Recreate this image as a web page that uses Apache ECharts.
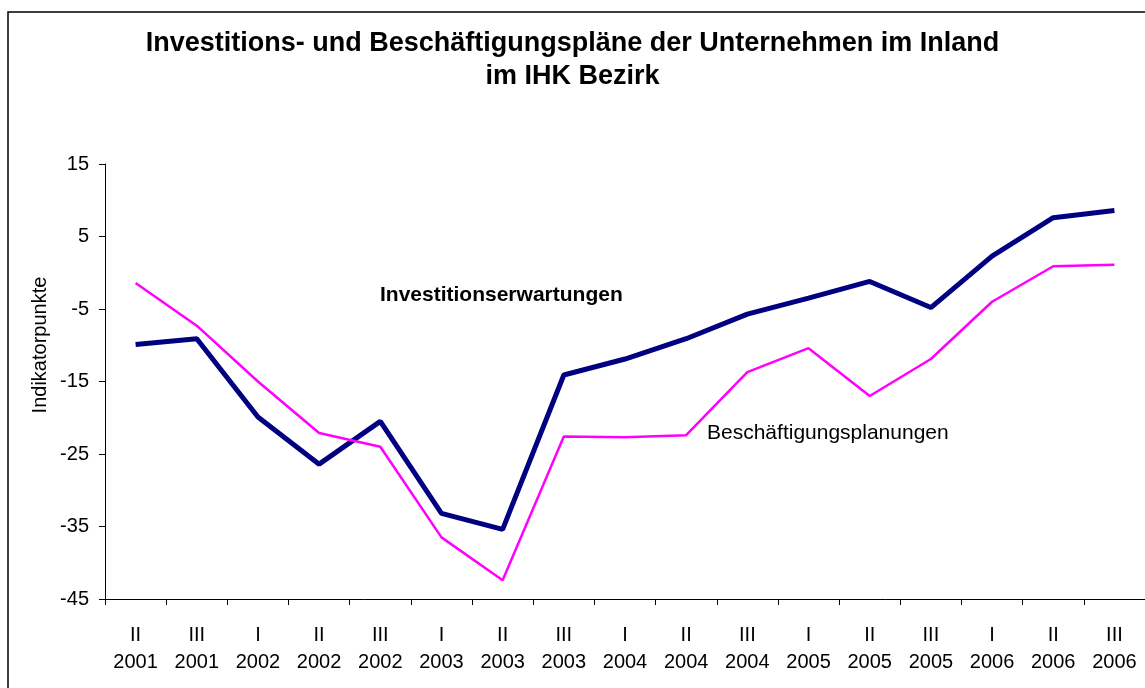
<!DOCTYPE html>
<html>
<head>
<meta charset="utf-8">
<script src="https://cdn.jsdelivr.net/npm/echarts@6/dist/echarts.min.js"></script>
<style>
  html, body { margin: 0; padding: 0; background: #fff; }
  #chart { width: 1145px; height: 688px; }
</style>
</head>
<body>
<div id="chart"></div>
<script>
var quarters = ['II', 'III', 'I', 'II', 'III', 'I', 'II', 'III', 'I', 'II', 'III', 'I', 'II', 'III', 'I', 'II', 'III'];
var years = ['2001', '2001', '2002', '2002', '2002', '2003', '2003', '2003', '2004', '2004', '2004', '2005', '2005', '2005', '2006', '2006', '2006'];
var investValues = [-9.9, -9.1, -19.9, -26.4, -20.5, -33.2, -35.4, -14.1, -11.9, -9.1, -5.7, -3.5, -1.2, -4.8, 2.3, 7.6, 8.6];
var jobValues = [-1.4, -7.3, -15.0, -22.1, -24.0, -36.5, -42.4, -22.6, -22.7, -22.4, -13.7, -10.4, -17.0, -11.9, -4.0, 0.9, 1.1];

var categories = quarters.map(function (q, i) {
    return q + '\n' + years[i];
});

var chart = echarts.init(document.getElementById('chart'));

var font = '"Liberation Sans", Arial, sans-serif';

var option = {
    animation: false,
    backgroundColor: '#fff',
    textStyle: { fontFamily: font },
    title: {
        text: 'Investitions- und Beschäftigungspläne der Unternehmen im Inland\nim IHK Bezirk',
        left: 'center',
        top: 22,
        textStyle: {
            fontFamily: font,
            fontSize: 27,
            fontWeight: 'bold',
            color: '#000',
            lineHeight: 33
        }
    },
    grid: {
        left: 105,
        top: 164,
        width: 1046,
        height: 435
    },
    xAxis: {
        type: 'category',
        data: categories,
        boundaryGap: true,
        axisLine: { show: true, onZero: false, lineStyle: { color: '#000', width: 1 } },
        axisTick: { show: true, alignWithLabel: false, interval: 0, length: 6, lineStyle: { color: '#000', width: 1 } },
        axisLabel: {
            color: '#000',
            fontSize: 20,
            fontFamily: font,
            lineHeight: 27,
            margin: 23,
            interval: 0
        },
        splitLine: { show: false }
    },
    yAxis: {
        type: 'value',
        min: -45,
        max: 15,
        interval: 10,
        axisLine: { show: true, lineStyle: { color: '#000', width: 1 } },
        axisTick: { show: true, length: 6, lineStyle: { color: '#000' } },
        axisLabel: { color: '#000', fontSize: 20, fontFamily: font, margin: 16 },
        splitLine: { show: false }
    },
    series: [{
        name: 'Investitionserwartungen',
        type: 'line',
        data: investValues,
        showSymbol: false,
        lineStyle: { color: '#000080', width: 5 },
        itemStyle: { color: '#000080' }
    }, {
        name: 'Beschäftigungsplanungen',
        type: 'line',
        data: jobValues,
        showSymbol: false,
        lineStyle: { color: '#FF00FF', width: 2.5 },
        itemStyle: { color: '#FF00FF' }
    }],
    graphic: [{
        type: 'rect',
        shape: { x: 8, y: 12, width: 1160, height: 700 },
        style: { fill: 'none', stroke: '#000', lineWidth: 1.5 },
        silent: true
    }, {
        // y axis title, sits higher than the axis middle in the original
        type: 'text',
        x: 40,
        y: 345,
        rotation: Math.PI / 2,
        style: {
            text: 'Indikatorpunkte',
            font: '20px ' + font,
            fill: '#000',
            textAlign: 'center',
            textVerticalAlign: 'middle'
        }
    }, {
        type: 'text',
        left: 380,
        top: 285,
        style: {
            text: 'Investitionserwartungen',
            font: 'bold 21px ' + font,
            fill: '#000'
        }
    }, {
        type: 'text',
        left: 707,
        top: 423,
        style: {
            text: 'Beschäftigungsplanungen',
            font: '21px ' + font,
            fill: '#000'
        }
    }]
};

chart.setOption(option);
</script>
</body>
</html>
